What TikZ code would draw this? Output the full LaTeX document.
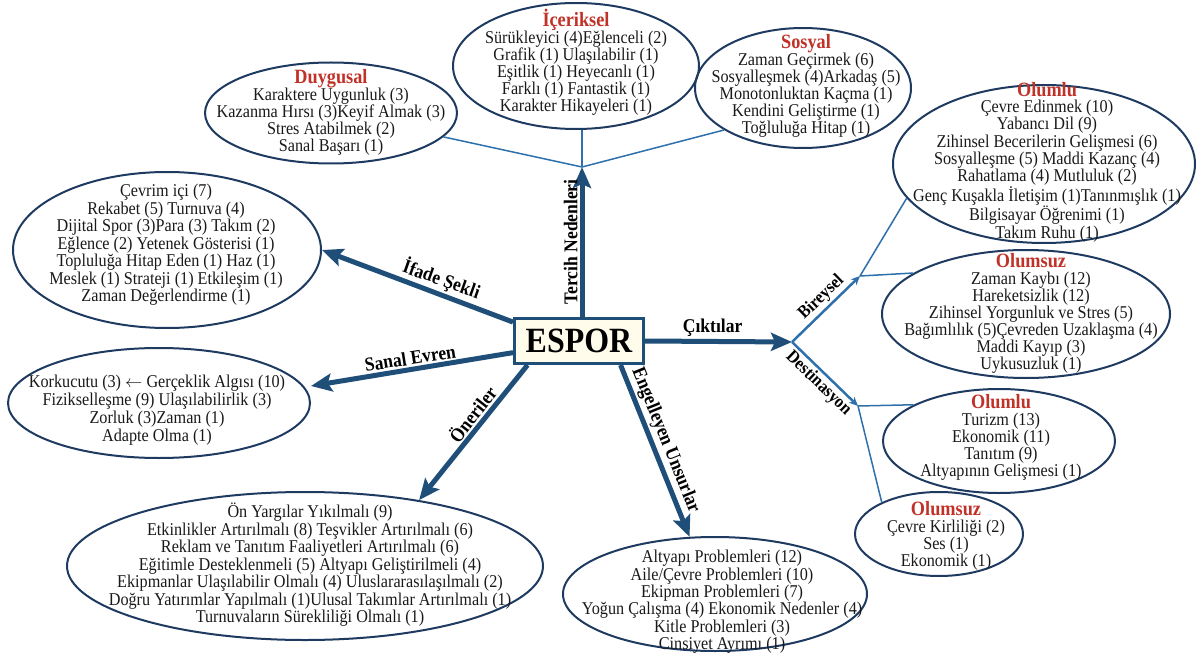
\documentclass[tikz,border=0pt]{standalone}
\usepackage{fontspec}
\setmainfont{Liberation Serif}[FakeStretch=0.9]
\usetikzlibrary{shapes.geometric,arrows.meta}

\definecolor{mainblue}{RGB}{31,78,121}
\definecolor{thinblue}{RGB}{46,112,172}
\definecolor{ovalblue}{RGB}{30,58,96}
\definecolor{titlered}{RGB}{192,50,40}
\definecolor{boxfill}{RGB}{255,252,235}

\tikzset{
  oval/.style={ellipse, draw=ovalblue, line width=2pt, inner sep=0pt},
  lst/.style={align=center, inner sep=0pt, text=black!90, font=\fontsize{18}{17}\selectfont},
  lbl/.style={font=\fontsize{19.5}{20}\selectfont\bfseries, inner sep=2pt},
  mainarrow/.style={draw=mainblue, line width=5pt, -{Stealth[length=21pt,width=18pt,inset=4pt]}},
  subarrow/.style={draw=thinblue, line width=2.5pt, -{Stealth[length=9pt,width=8pt]}},
  thinline/.style={draw=thinblue, line width=1.5pt},
}
\newcommand{\ttl}[1]{{\color{titlered}\fontsize{20.3}{20}\selectfont\bfseries #1}}

\begin{document}
\begin{tikzpicture}[x=1pt,y=1pt,yscale=-1]
\useasboundingbox (0,0) rectangle (1199,655);

% Center
\node[draw=mainblue, line width=3pt, fill=boxfill, minimum width=129pt, minimum height=45pt,
  font=\fontsize{35.5}{36}\selectfont\bfseries] (espor) at (579,341) {ESPOR};

% Ellipses
\node[oval, minimum width=252pt, minimum height=101pt] (duyg) at (331,113) {};
\node[oval, minimum width=246pt, minimum height=126pt] (icer) at (576,66) {};
\node[oval, minimum width=216pt, minimum height=120pt] (sosy) at (803,88) {};
\node[oval, minimum width=302pt, minimum height=158pt] (blml) at (1044,164) {};
\node[oval, minimum width=288pt, minimum height=128pt] (blmz) at (1026,314) {};
\node[oval, minimum width=232pt, minimum height=104pt] (dlml) at (999,441) {};
\node[oval, minimum width=168pt, minimum height=84pt] (dlmz) at (939,534) {};
\node[oval, minimum width=308pt, minimum height=156pt] (ifade) at (167,250) {};
\node[oval, minimum width=302pt, minimum height=110pt] (sanal) at (159,403) {};
\node[oval, minimum width=476pt, minimum height=148pt] (oneri) at (305,566) {};
\node[oval, minimum width=304pt, minimum height=114pt] (engel) at (715,594) {};

% Text Node
\node[lst] (duygT) at (331,112) {\ttl{Duygusal}\\Karaktere Uygunluk (3)\\Kazanma Hırsı (3)Keyif Almak (3)\\Stres Atabilmek (2)\\Sanal Başarı (1)};
% Text Node
\node[lst] (icerT) at (576,62) {\ttl{İçeriksel}\\Sürükleyici (4)Eğlenceli (2)\\Grafik (1) Ulaşılabilir (1)\\Eşitlik (1) Heyecanlı (1)\\Farklı (1) Fantastik (1)\\Karakter Hikayeleri (1)};
% Text Node
\node[lst] (sosyT) at (806,86) {\ttl{Sosyal}\\Zaman Geçirmek (6)\\Sosyalleşmek (4)Arkadaş (5)\\Monotonluktan Kaçma (1)\\Kendini Geliştirme (1)\\Toğluluğa Hitap (1)};
% Text Node
\node[lst, font=\fontsize{18}{16.3}\selectfont] (blmlT) at (1047,162) {\ttl{Olumlu}\\Çevre Edinmek (10)\\Yabancı Dil (9)\\Zihinsel Becerilerin Gelişmesi (6)\\Sosyalleşme (5) Maddi Kazanç (4)\\Rahatlama (4) Mutluluk (2)\\Genç Kuşakla İletişim (1)Tanınmışlık (1)\\Bilgisayar Öğrenimi (1)\\Takım Ruhu (1)};
% Text Node
\node[lst] (blmzT) at (1031,313) {\ttl{Olumsuz}\\Zaman Kaybı (12)\\Hareketsizlik (12)\\Zihinsel Yorgunluk ve Stres (5)\\Bağımlılık (5)Çevreden Uzaklaşma (4)\\Maddi Kayıp (3)\\Uykusuzluk (1)};
% Text Node
\node[lst] (dlmlT) at (1001,437) {\ttl{Olumlu}\\Turizm (13)\\Ekonomik (11)\\Tanıtım (9)\\Altyapının Gelişmesi (1)};
% Text Node
\node[lst] (dlmzT) at (946,536) {\ttl{Olumsuz}\\Çevre Kirliliği (2)\\Ses (1)\\Ekonomik (1)};
% Text Node
\node[lst, font=\fontsize{18}{17.5}\selectfont] (ifadeT) at (166,245) {Çevrim içi (7)\\Rekabet (5) Turnuva (4)\\Dijital Spor (3)Para (3) Takım (2)\\Eğlence (2) Yetenek Gösterisi (1)\\Topluluğa Hitap Eden (1) Haz (1)\\Meslek (1) Strateji (1) Etkileşim (1)\\Zaman Değerlendirme (1)};
% Text Node
\node[lst, font=\fontsize{18}{18}\selectfont] (sanalT) at (157,410) {Korkucutu (3) $\leftarrow$ Gerçeklik Algısı (10)\\Fizikselleşme (9) Ulaşılabilirlik (3)\\Zorluk (3)Zaman (1)\\Adapte Olma (1)};
% Text Node
\node[lst, font=\fontsize{18}{17.5}\selectfont] (oneriT) at (310,565) {Ön Yargılar Yıkılmalı (9)\\Etkinlikler Artırılmalı (8) Teşvikler Artırılmalı (6)\\Reklam ve Tanıtım Faaliyetleri Artırılmalı (6)\\Eğitimle Desteklenmeli (5) Altyapı Geliştirilmeli (4)\\Ekipmanlar Ulaşılabilir Olmalı (4) Uluslararasılaşılmalı (2)\\Doğru Yatırımlar Yapılmalı (1)Ulusal Takımlar Artırılmalı (1)\\Turnuvaların Sürekliliği Olmalı (1)};
% Text Node
\node[lst, font=\fontsize{18}{16.3}\selectfont] (engelT) at (722,602) {Altyapı Problemleri (12)\\Aile/Çevre Problemleri (10)\\Ekipman Problemleri (7)\\Yoğun Çalışma (4) Ekonomik Nedenler (4)\\Kitle Problemleri (3)\\Cinsiyet Ayrımı (1)};

% Junctions
\coordinate (tj) at (582,167);
\coordinate (cj) at (792,342);
\coordinate (bj) at (860,276);
\coordinate (dj) at (858,406);

%Straight Lines
\draw[thinline] (tj) -- (duyg.-12);
\draw[thinline] (tj) -- (tj |- icer.south);
\draw[thinline] (tj) -- (sosy.208);
\draw[thinline] (bj) -- (blml.194);
\draw[thinline] (bj) -- (blmz.160);
\draw[thinline] (dj) -- (dlml.157);
\draw[thinline] (dj) -- (dlmz.151);

%Arrows
\draw[mainarrow] (espor.north -| tj) -- (tj) node[lbl, rotate=90, anchor=south, pos=0.5] (tercihL) {Tercih Nedenleri};
\draw[mainarrow] (espor.164) -- (ifade.east) node[lbl, rotate=-19.5, anchor=south, pos=0.4] (ifadeL) {İfade Şekli};
\draw[mainarrow] (espor.190) -- ([yshift=-17pt]sanal.east) node[lbl, rotate=9, anchor=south, pos=0.5] (sanalL) {Sanal Evren};
\draw[mainarrow] (espor.205) -- (oneri.30) node[lbl, rotate=52, anchor=south, pos=0.42] (oneriL) {Öneriler};
\draw[mainarrow] (espor.-30) -- (engel.114) node[lbl, rotate=-68, anchor=south, pos=0.47] (engelL) {Engelleyen Unsurlar};
\draw[mainarrow] (espor.east) -- (cj) node[lbl, anchor=south, pos=0.46] (ciktiL) {Çıktılar};
\draw[subarrow] (cj) -- (bj) node[lbl, rotate=44, anchor=south, pos=0.55, font=\fontsize{18}{18}\selectfont\bfseries] (birL) {Bireysel};
\draw[subarrow] (cj) -- (dj) node[lbl, rotate=-44, anchor=north, pos=0.52, font=\fontsize{18}{18}\selectfont\bfseries] (destL) {Destinasyon};

\end{tikzpicture}
\end{document}
